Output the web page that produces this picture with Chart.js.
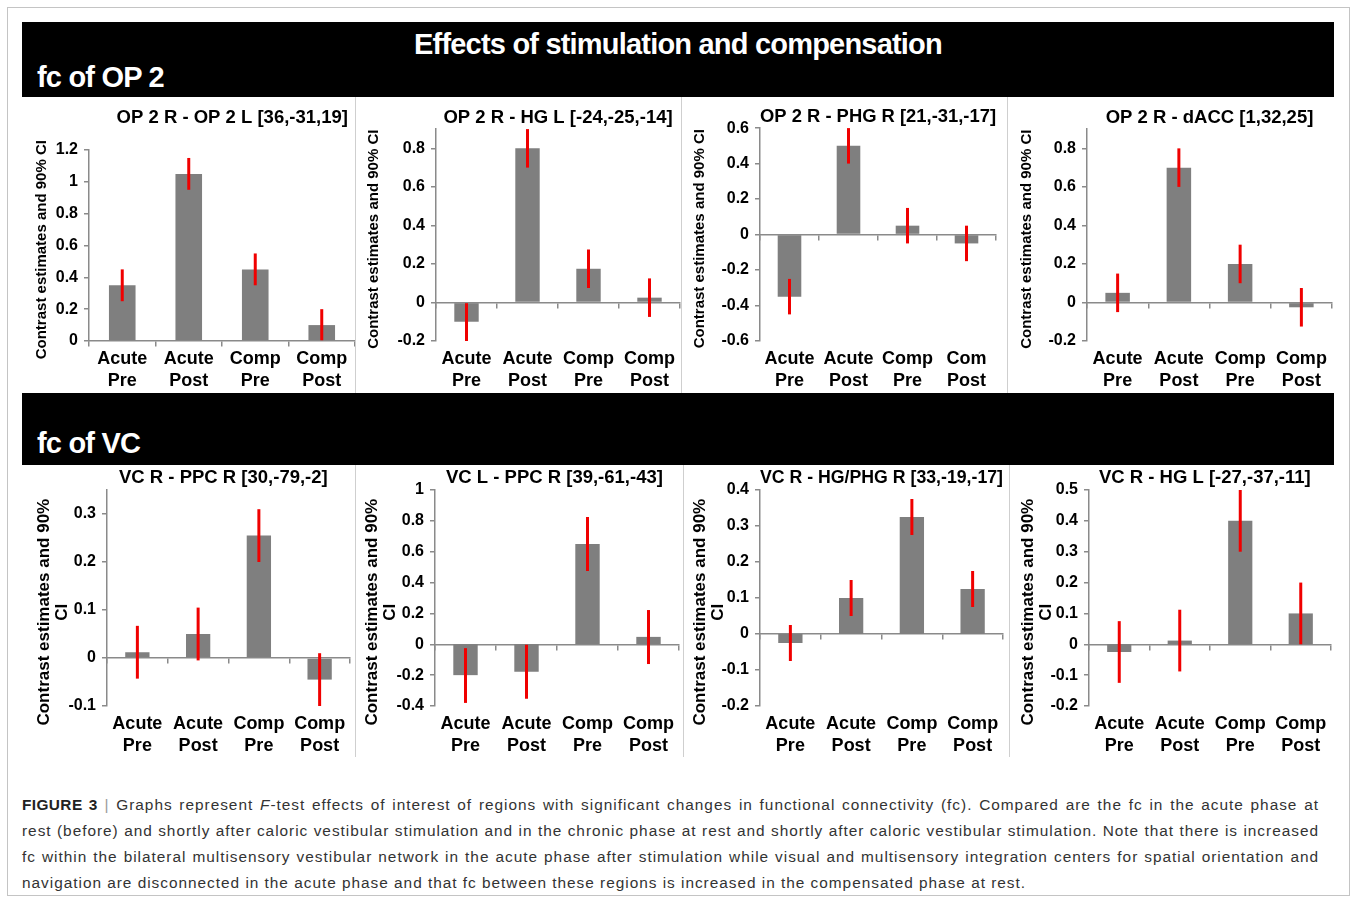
<!DOCTYPE html>
<html lang="en">
<head>
  <meta charset="UTF-8">
  <title>Effects of stimulation and compensation</title>
  <script src="https://cdn.jsdelivr.net/npm/chart.js"></script>
  <style>
    body { margin: 0; background: #fff; }
    #page { position: relative; width: 1356px; height: 899px; overflow: hidden; font-family: "Liberation Sans", Arial, sans-serif; }
    .frame { position: absolute; left: 7px; top: 7px; width: 1341px; height: 887px; border: 1px solid #c4c4c4; }
    .band { position: absolute; left: 22px; width: 1312px; background: #000; color: #fff; }
    .band div { position: absolute; font-weight: bold; font-size: 29px; line-height: 34px; letter-spacing: -0.8px; white-space: nowrap; }
    .sep { position: absolute; width: 1px; background: #cfcfcf; z-index: 2; }
    canvas { position: absolute; }
    .caption { position: absolute; left: 22px; top: 792px; width: 1297px; font-size: 15.4px; line-height: 26px; letter-spacing: 0.98px; color: #333; }
    .caption div { white-space: nowrap; }
    .caption .full { text-align: justify; text-align-last: justify; }
    .caption b { color: #222; letter-spacing: 0.4px; }
    .caption .bar { color: #999; }
  </style>
</head>
<body>
  <div id="page">
    <div class="frame"></div>
    <div class="band" style="top:22px;height:75px;">
      <div style="left:0;right:0;top:5px;text-align:center;">Effects of stimulation and compensation</div>
      <div style="left:15px;top:38px;">fc of OP 2</div>
    </div>
    <div class="band" style="top:393px;height:72px;">
      <div style="left:15px;top:33px;">fc of VC</div>
    </div>

    <div class="sep" style="left:355px;top:97px;height:296px;"></div>
    <div class="sep" style="left:681px;top:97px;height:296px;"></div>
    <div class="sep" style="left:1007px;top:97px;height:296px;"></div>
    <div class="sep" style="left:355px;top:465px;height:292px;"></div>
    <div class="sep" style="left:683px;top:465px;height:292px;"></div>
    <div class="sep" style="left:1009px;top:465px;height:292px;"></div>

    <div class="caption">
      <div class="full"><b>FIGURE 3</b> <span class="bar">|</span> Graphs represent <i>F</i>-test effects of interest of regions with significant changes in functional connectivity (fc). Compared are the fc in the acute phase at</div>
      <div class="full">rest (before) and shortly after caloric vestibular stimulation and in the chronic phase at rest and shortly after caloric vestibular stimulation. Note that there is increased</div>
      <div class="full">fc within the bilateral multisensory vestibular network in the acute phase after stimulation while visual and multisensory integration centers for spatial orientation and</div>
      <div>navigation are disconnected in the acute phase and that fc between these regions is increased in the compensated phase at rest.</div>
    </div>
  </div>

  <script>
    // category labels (the third panel really says "Com")
    const categories = [['Acute', 'Pre'], ['Acute', 'Post'], ['Comp', 'Pre'], ['Comp', 'Post']];
    const categoriesPhg = [['Acute', 'Pre'], ['Acute', 'Post'], ['Comp', 'Pre'], ['Com', 'Post']];

    // fc of OP 2
    const op2OpValues = [0.35, 1.05, 0.45, 0.1];
    const op2OpLow = [0.25, 0.95, 0.35, 0.0];
    const op2OpHigh = [0.45, 1.15, 0.55, 0.2];

    const op2HgValues = [-0.1, 0.8, 0.175, 0.025];
    const op2HgLow = [-0.2, 0.7, 0.075, -0.075];
    const op2HgHigh = [0.0, 0.9, 0.275, 0.125];

    const op2PhgValues = [-0.35, 0.5, 0.05, -0.05];
    const op2PhgLow = [-0.45, 0.4, -0.05, -0.15];
    const op2PhgHigh = [-0.25, 0.6, 0.15, 0.05];

    const op2AccValues = [0.05, 0.7, 0.2, -0.025];
    const op2AccLow = [-0.05, 0.6, 0.1, -0.125];
    const op2AccHigh = [0.15, 0.8, 0.3, 0.075];

    // fc of VC
    const vcPpcValues = [0.012, 0.05, 0.255, -0.045];
    const vcPpcLow = [-0.043, -0.005, 0.2, -0.1];
    const vcPpcHigh = [0.067, 0.105, 0.31, 0.01];

    const vcLPpcValues = [-0.2, -0.178, 0.65, 0.048];
    const vcLPpcLow = [-0.38, -0.353, 0.475, -0.128];
    const vcLPpcHigh = [-0.025, -0.003, 0.825, 0.222];

    const vcPhgValues = [-0.025, 0.1, 0.325, 0.125];
    const vcPhgLow = [-0.075, 0.05, 0.275, 0.075];
    const vcPhgHigh = [0.025, 0.15, 0.375, 0.175];

    const vcHgValues = [-0.025, 0.012, 0.4, 0.1];
    const vcHgLow = [-0.125, -0.088, 0.3, 0.0];
    const vcHgHigh = [0.075, 0.112, 0.5, 0.2];

    const axisTitle = ['Contrast estimates and 90% CI'];
    const axisTitleWrapped = ['Contrast estimates and 90%', 'CI'];

    // box = canvas [x, y, w, h]; area = wanted plot area [left, top, right, bottom] on the page
    // yTitleShift / titleShift = blank chars added to nudge a title off its centre like in the figure
    const rowOne = { yTitle: axisTitle, yTitleSize: 15, yTitleLine: 1.25, yTitleShift: 2 };
    const rowTwo = { yTitle: axisTitleWrapped, yTitleSize: 17, yTitleLine: 1.08, yTitleShift: 6 };
    const panels = [
      { ...rowOne, title: 'OP 2 R - OP 2 L [36,-31,19]', titleShift: 4, labels: categories, values: op2OpValues, low: op2OpLow, high: op2OpHigh,
        yMin: 0, yMax: 1.2, step: 0.2, box: [24, 97, 332, 295], area: [89, 150, 355, 341], titleY: 118, yTitleX: 42 },
      { ...rowOne, title: 'OP 2 R - HG L [-24,-25,-14]', titleShift: 0, labels: categories, values: op2HgValues, low: op2HgLow, high: op2HgHigh,
        yMin: -0.2, yMax: 0.9, step: 0.2, box: [357, 97, 324, 295], area: [436, 128, 680, 341], titleY: 118, yTitleX: 374 },
      { ...rowOne, title: 'OP 2 R - PHG R [21,-31,-17]', titleShift: 0, labels: categoriesPhg, values: op2PhgValues, low: op2PhgLow, high: op2PhgHigh,
        yMin: -0.6, yMax: 0.6, step: 0.2, box: [683, 97, 323, 295], area: [760, 128, 996, 341], titleY: 117, yTitleX: 700 },
      { ...rowOne, title: 'OP 2 R - dACC [1,32,25]', titleShift: 0, labels: categories, values: op2AccValues, low: op2AccLow, high: op2AccHigh,
        yMin: -0.2, yMax: 0.9, step: 0.2, box: [1009, 97, 325, 295], area: [1087, 128, 1332, 341], titleY: 118, yTitleX: 1027 },
      { ...rowTwo, title: 'VC R - PPC R [30,-79,-2]', titleShift: -2, labels: categories, values: vcPpcValues, low: vcPpcLow, high: vcPpcHigh,
        yMin: -0.1, yMax: 0.35, step: 0.1, box: [24, 465, 332, 292], area: [107, 490, 350, 706], titleY: 478, yTitleX: 44 },
      { ...rowTwo, title: 'VC L - PPC R [39,-61,-43]', titleShift: -1, labels: categories, values: vcLPpcValues, low: vcLPpcLow, high: vcLPpcHigh,
        yMin: -0.4, yMax: 1, step: 0.2, box: [357, 465, 326, 292], area: [435, 490, 679, 706], titleY: 478, yTitleX: 372 },
      { ...rowTwo, title: 'VC R - HG/PHG R [33,-19,-17]', titleShift: 0, labels: categories, values: vcPhgValues, low: vcPhgLow, high: vcPhgHigh,
        yMin: -0.2, yMax: 0.4, step: 0.1, box: [685, 465, 323, 292], area: [760, 490, 1003, 706], titleY: 478, yTitleX: 700 },
      { ...rowTwo, title: 'VC R - HG L [-27,-37,-11]', titleShift: -2, labels: categories, values: vcHgValues, low: vcHgLow, high: vcHgHigh,
        yMin: -0.2, yMax: 0.5, step: 0.1, box: [1011, 465, 323, 292], area: [1089, 490, 1331, 706], titleY: 478, yTitleX: 1028 }
    ];

    Chart.defaults.font.family = '"Liberation Sans", Arial, sans-serif';
    Chart.defaults.color = '#000';

    const axisGray = '#8a8a8a';
    const blank = (n) => '\u00a0'.repeat(Math.abs(n));

    function drawPanel(p) {
      const [bx, by, bw, bh] = p.box;
      const [al, at, ar, ab] = p.area;
      const canvas = document.createElement('canvas');
      canvas.width = bw;
      canvas.height = bh;
      canvas.style.left = bx + 'px';
      canvas.style.top = by + 'px';
      document.getElementById('page').appendChild(canvas);

      const titleLine = 18.5 * 1.2;
      const titlePadTop = p.titleY - by - titleLine / 2;
      const titlePadBottom = Math.max(0, (at - by) - titlePadTop - titleLine);
      const axisTitleLine = p.yTitleSize * p.yTitleLine;
      const titleText = p.titleShift > 0 ? blank(p.titleShift) + p.title : p.title + blank(p.titleShift);

      new Chart(canvas, {
        type: 'bar',
        data: {
          labels: p.labels,
          datasets: [
            {
              label: '90% CI',
              data: p.low.map((lo, i) => [lo, p.high[i]]),
              backgroundColor: '#f00000',
              grouped: false,
              barPercentage: 0.2,
              categoryPercentage: 1,
              maxBarThickness: 3
            },
            {
              label: 'Contrast estimate',
              data: p.values,
              backgroundColor: '#7f7f7f',
              grouped: false,
              barPercentage: 0.4,
              categoryPercentage: 1
            }
          ]
        },
        options: {
          responsive: false,
          animation: false,
          devicePixelRatio: 1,
          layout: { padding: { left: 0, top: 0, right: bx + bw - ar, bottom: 0 } },
          plugins: {
            legend: { display: false },
            tooltip: { enabled: false },
            title: {
              display: true,
              text: titleText,
              fullSize: false,
              color: '#000',
              font: { size: 18.5, weight: 'bold', lineHeight: 1.2 },
              padding: { top: titlePadTop, bottom: titlePadBottom }
            }
          },
          scales: {
            x: {
              grid: { display: false },
              border: { display: false },
              ticks: {
                font: { size: 18, weight: 'bold', lineHeight: 1.22 },
                color: '#000',
                padding: -1,
                maxRotation: 0,
                autoSkip: false
              },
              afterFit: (s) => { s.height = by + bh - ab; }
            },
            x2: {
              type: 'category',
              position: { y: 0 },
              offset: true,
              grid: { offset: true, drawOnChartArea: false, drawTicks: true, tickLength: 5, color: axisGray, lineWidth: 1.5 },
              border: { color: axisGray, width: 1.5 },
              ticks: { display: false }
            },
            y: {
              min: p.yMin,
              max: p.yMax,
              bounds: 'data',
              grid: { drawOnChartArea: false, tickLength: 5, color: axisGray, lineWidth: 1.5 },
              border: { color: axisGray, width: 1.5 },
              ticks: {
                stepSize: p.step,
                padding: 6,
                color: '#000',
                font: { size: 16, weight: 'bold' },
                callback: (v) => String(Math.round(v * 100) / 100)
              },
              // drop the extra tick the top bound adds when it is off the step
              afterBuildTicks: (s) => {
                s.ticks = s.ticks.filter((t) => {
                  const k = (t.value - p.yMin) / p.step;
                  return Math.abs(k - Math.round(k)) < 1e-6;
                });
              },
              title: {
                display: true,
                text: p.yTitle.map((line) => line + blank(p.yTitleShift)),
                color: '#000',
                font: { size: p.yTitleSize, weight: 'bold', lineHeight: p.yTitleLine },
                padding: { top: p.yTitleX - bx - axisTitleLine / 2, bottom: 0 }
              },
              afterFit: (s) => { s.width = al - bx; }
            }
          }
        }
      });
    }

    panels.forEach(drawPanel);
  </script>
</body>
</html>
